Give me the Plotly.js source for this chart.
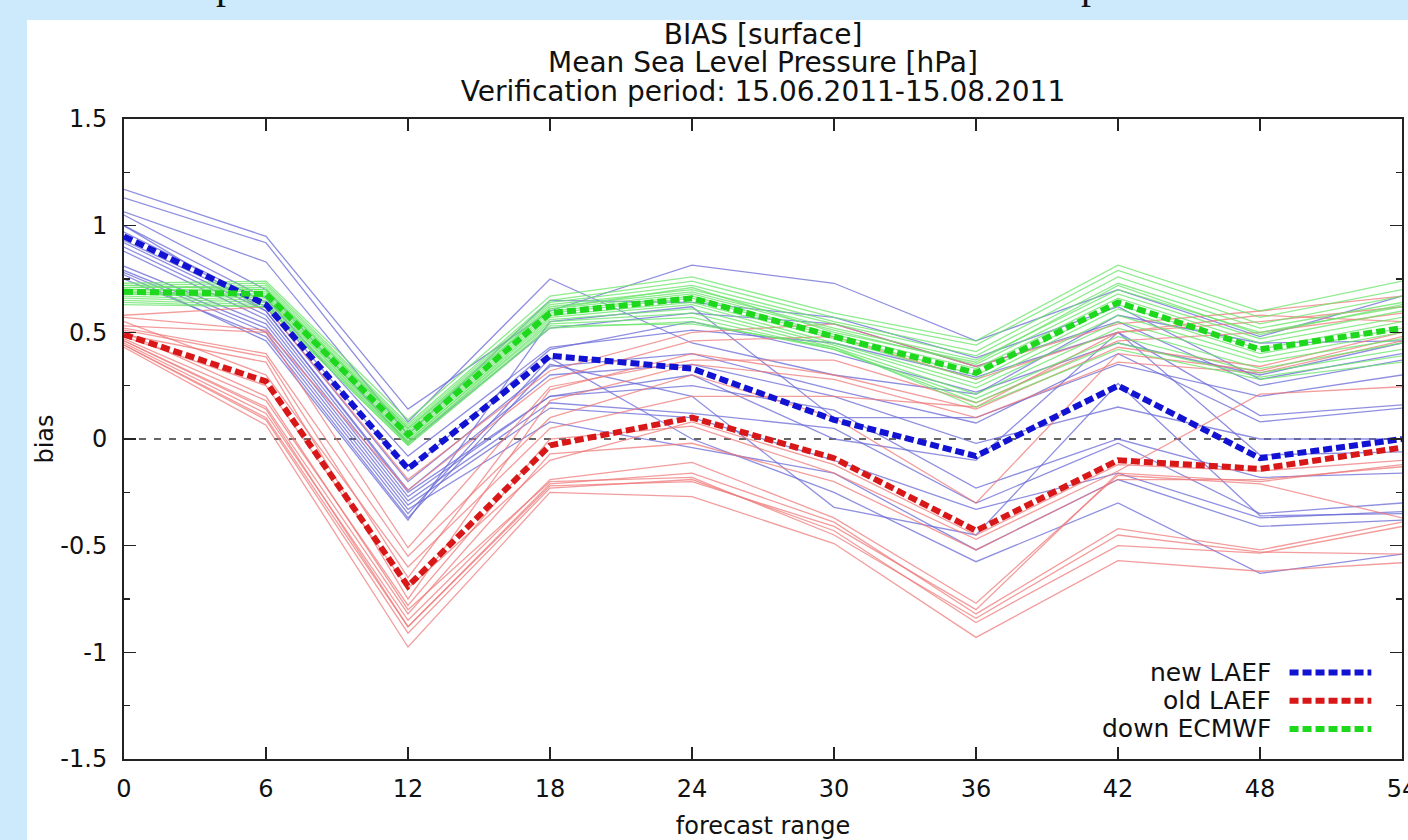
<!DOCTYPE html>
<html>
<head>
<meta charset="utf-8">
<script src="https://cdn.plot.ly/plotly-3.0.1.min.js"></script>
<style>
html,body{margin:0;padding:0;width:1408px;height:840px;overflow:hidden;background:#CCEAFB;}
#panel{position:absolute;left:27px;top:20px;width:1381px;height:820px;background:#ffffff;}
#strip{position:absolute;left:0;top:0;width:1408px;height:20px;overflow:hidden;}
.frag{position:absolute;top:-35px;font-family:"Liberation Serif","DejaVu Serif",serif;font-size:40px;line-height:40px;color:#111;}
#chart{position:absolute;left:0;top:0;width:1408px;height:840px;}
</style>
</head>
<body>
<div id="strip"><span class="frag" style="left:216px">p</span><span class="frag" style="left:1081px">p</span></div>
<div id="panel"></div>
<div id="chart"></div>
<script>
// ---- data ----
const leadTimes   = [0, 6, 12, 18, 24, 30, 36, 42, 48, 54];
const xTickLabels = ['0', '6', '12', '18', '24', '30', '36', '42', '48', '54'];
const yTickValues = [-1.5, -1, -0.5, 0, 0.5, 1, 1.5];
const yTickLabels = ['-1.5', '-1', '-0.5', '0', '0.5', '1', '1.5'];
const yMinorTicks = [-1.25, -0.75, -0.25, 0.25, 0.75, 1.25];
const seriesNames = ['new LAEF', 'old LAEF', 'down ECMWF'];

const newLaefMean = [0.95, 0.63, -0.14, 0.39, 0.33, 0.09, -0.08, 0.25, -0.09, 0.00];
const oldLaefMean = [0.49, 0.27, -0.69, -0.03, 0.10, -0.09, -0.43, -0.10, -0.14, -0.04];
const ecmwfMean   = [0.69, 0.68, 0.02, 0.59, 0.66, 0.48, 0.31, 0.64, 0.42, 0.52];

const newLaefMembers = [
  [1.17, 0.95, 0.14, 0.60, 0.815, 0.73, 0.46, 0.70, 0.48, 0.67],
  [1.13, 0.92, 0.08, 0.75, 0.45, 0.30, 0.21, 0.58, 0.45, 0.46],
  [1.065, 0.83, 0.02, 0.65, 0.64, 0.57, 0.38, 0.62, 0.28, 0.40],
  [1.05, 0.70, -0.02, 0.52, 0.59, 0.54, 0.34, 0.55, 0.25, 0.37],
  [1.00, 0.66, -0.08, 0.43, 0.51, 0.45, 0.29, 0.50, 0.11, 0.16],
  [0.97, 0.64, -0.15, 0.42, 0.55, 0.40, 0.22, 0.45, 0.30, 0.45],
  [0.93, 0.62, -0.20, 0.34, 0.40, 0.23, 0.075, 0.40, 0.08, 0.145],
  [0.92, 0.60, -0.24, 0.30, 0.35, 0.20, -0.02, 0.15, 0.00, 0.00],
  [0.90, 0.58, -0.27, 0.20, 0.25, 0.135, -0.23, 0.00, -0.18, -0.16],
  [0.88, 0.56, -0.29, 0.17, 0.12, 0.05, -0.30, -0.02, -0.35, -0.30],
  [0.81, 0.54, -0.31, 0.145, 0.10, -0.10, -0.33, -0.16, -0.37, -0.34],
  [0.79, 0.52, -0.33, 0.08, -0.04, -0.16, -0.52, -0.19, -0.41, -0.38],
  [0.78, 0.50, -0.35, 0.38, 0.00, -0.25, -0.575, -0.30, -0.63, -0.54],
  [0.75, 0.48, -0.37, 0.35, 0.20, -0.32, -0.45, 0.26, -0.36, -0.35],
  [0.77, 0.46, -0.38, 0.55, 0.62, 0.10, 0.10, 0.35, 0.20, 0.30],
  [1.00, 0.60, -0.25, 0.20, 0.30, 0.00, -0.10, 0.50, -0.075, -0.06]
];
const oldLaefMembers = [
  [0.58, 0.62, -0.19, 0.32, 0.50, 0.54, 0.34, 0.54, 0.60, 0.67],
  [0.57, 0.51, -0.24, 0.28, 0.46, 0.48, 0.28, 0.50, 0.55, 0.62],
  [0.53, 0.50, -0.51, 0.245, 0.37, 0.37, 0.17, 0.46, 0.50, 0.59],
  [0.51, 0.385, -0.65, 0.23, 0.40, 0.30, 0.14, 0.43, 0.34, 0.50],
  [0.49, 0.36, -0.75, 0.18, 0.35, 0.28, 0.10, 0.36, 0.31, 0.46],
  [0.47, 0.18, -0.78, 0.00, 0.06, -0.16, -0.47, -0.15, 0.21, 0.245],
  [0.46, 0.15, -0.82, -0.07, -0.02, -0.20, -0.52, -0.19, -0.19, -0.13],
  [0.45, 0.12, -0.85, -0.19, -0.11, -0.37, -0.77, -0.17, -0.21, -0.37],
  [0.44, 0.10, -0.88, -0.21, -0.16, -0.39, -0.82, -0.42, -0.52, -0.39],
  [0.44, 0.09, -0.91, -0.23, -0.19, -0.43, -0.86, -0.50, -0.535, -0.41],
  [0.43, 0.065, -0.975, -0.25, -0.27, -0.49, -0.93, -0.57, -0.62, -0.58],
  [0.50, 0.20, -0.80, -0.20, -0.18, -0.45, -0.84, -0.45, -0.53, -0.54],
  [0.48, 0.25, -0.70, -0.10, 0.08, -0.12, -0.45, -0.12, -0.15, -0.10],
  [0.52, 0.40, -0.55, 0.10, 0.30, 0.10, -0.30, 0.40, 0.32, 0.48],
  [0.46, 0.14, -0.88, -0.22, -0.20, -0.41, -0.80, -0.16, -0.20, -0.12],
  [0.55, 0.30, -0.60, 0.05, 0.20, 0.20, 0.15, 0.50, 0.58, 0.55]
];
const ecmwfMembers = [
  [0.73, 0.74, 0.09, 0.67, 0.76, 0.59, 0.46, 0.815, 0.60, 0.74],
  [0.72, 0.73, 0.07, 0.65, 0.74, 0.57, 0.44, 0.79, 0.57, 0.70],
  [0.71, 0.72, 0.06, 0.64, 0.72, 0.55, 0.41, 0.76, 0.54, 0.67],
  [0.71, 0.71, 0.05, 0.63, 0.70, 0.54, 0.39, 0.73, 0.52, 0.64],
  [0.70, 0.70, 0.04, 0.62, 0.69, 0.52, 0.37, 0.70, 0.50, 0.62],
  [0.70, 0.69, 0.03, 0.61, 0.68, 0.51, 0.35, 0.68, 0.47, 0.60],
  [0.69, 0.68, 0.02, 0.60, 0.67, 0.49, 0.33, 0.66, 0.45, 0.57],
  [0.69, 0.67, 0.01, 0.59, 0.66, 0.48, 0.30, 0.63, 0.42, 0.55],
  [0.68, 0.67, 0.00, 0.58, 0.64, 0.47, 0.28, 0.61, 0.40, 0.52],
  [0.68, 0.66, -0.01, 0.57, 0.63, 0.45, 0.26, 0.58, 0.38, 0.50],
  [0.67, 0.65, -0.01, 0.56, 0.61, 0.44, 0.24, 0.55, 0.36, 0.47],
  [0.66, 0.64, -0.02, 0.55, 0.59, 0.43, 0.21, 0.52, 0.33, 0.45],
  [0.65, 0.63, -0.02, 0.54, 0.57, 0.42, 0.19, 0.48, 0.31, 0.42],
  [0.64, 0.62, -0.03, 0.52, 0.55, 0.42, 0.17, 0.45, 0.29, 0.39],
  [0.63, 0.62, -0.03, 0.53, 0.54, 0.43, 0.15, 0.42, 0.28, 0.36],
  [0.72, 0.70, 0.05, 0.61, 0.71, 0.50, 0.36, 0.72, 0.49, 0.63]
];

// ---- styling ----
const memberColors = ['rgba(105,105,215,0.75)', 'rgba(238,118,118,0.72)', 'rgba(105,228,105,0.75)'];
const meanColors   = ['#1212d2', '#d81818', '#1ed81e'];
const FONT = '"DejaVu Sans", "Liberation Sans", Arial, sans-serif';

const traces = [];
[newLaefMembers, oldLaefMembers, ecmwfMembers].forEach((group, gi) => {
  group.forEach(vals => {
    traces.push({
      x: leadTimes, y: vals, type: 'scatter', mode: 'lines',
      line: {color: memberColors[gi], width: 1.3},
      showlegend: false, hoverinfo: 'skip'
    });
  });
});
[newLaefMean, oldLaefMean, ecmwfMean].forEach((vals, gi) => {
  traces.push({
    x: leadTimes, y: vals, type: 'scatter', mode: 'lines', name: seriesNames[gi],
    line: {color: meanColors[gi], width: 6, dash: '9px,4px'},
    showlegend: false, hoverinfo: 'skip'
  });
});

// legend (gnuplot style: text right-aligned, sample to its right)
const legendRowsY = [0.135, 0.091, 0.047];
const annotations = [];
const shapes = [{
  type: 'line', xref: 'x', yref: 'y', x0: leadTimes[0], x1: leadTimes[leadTimes.length - 1], y0: 0, y1: 0,
  line: {color: '#333', width: 1.5, dash: '7px,8px'}, layer: 'below'
}];
seriesNames.forEach((nm, i) => {
  annotations.push({
    xref: 'paper', yref: 'paper', x: 0.899, y: legendRowsY[i], xanchor: 'right', yanchor: 'middle',
    text: nm, showarrow: false, font: {family: FONT, size: 25, color: '#111'}
  });
  shapes.push({
    type: 'line', xref: 'paper', yref: 'paper', x0: 0.912, x1: 0.976, y0: legendRowsY[i], y1: legendRowsY[i],
    line: {color: meanColors[i], width: 6, dash: '9px,4px'}
  });
});

const big = s => '<span style="font-size:28px">' + s + '</span>';

const layout = {
  width: 1408, height: 840,
  paper_bgcolor: 'rgba(0,0,0,0)', plot_bgcolor: '#ffffff',
  margin: {l: 124, r: 6, t: 119, b: 81, pad: 0},
  font: {family: FONT, size: 24, color: '#111'},
  showlegend: false,
  title: {
    text: big('BIAS [surface]') + '<br>' + big('Mean Sea Level Pressure [hPa]') + '<br>' + big('Verification period: 15.06.2011-15.08.2011'),
    font: {family: FONT, size: 22, color: '#111'},
    x: 0.5, xref: 'paper', xanchor: 'center',
    y: 0.948, yref: 'container', yanchor: 'top'
  },
  xaxis: {
    range: [0, 54], tickmode: 'array', tickvals: leadTimes, ticktext: xTickLabels,
    ticks: 'inside', ticklen: 12, tickwidth: 1.5, tickcolor: '#222',
    showline: true, linecolor: '#222', linewidth: 2, mirror: 'ticks',
    showgrid: false, zeroline: false, ticklabelstandoff: 7, ticklabeloverflow: 'allow',
    tickfont: {family: FONT, size: 24, color: '#111'},
    title: {text: 'forecast range', font: {family: FONT, size: 24, color: '#111'}, standoff: 26},
    automargin: false
  },
  yaxis: {
    range: [-1.5, 1.5], tickmode: 'array', tickvals: yTickValues, ticktext: yTickLabels,
    ticks: 'inside', ticklen: 12, tickwidth: 1.5, tickcolor: '#222',
    minor: {tickmode: 'array', tickvals: yMinorTicks, ticks: 'inside', ticklen: 6, tickwidth: 1.5, tickcolor: '#222', showgrid: false},
    showline: true, linecolor: '#222', linewidth: 2, mirror: 'ticks',
    showgrid: false, zeroline: false, ticklabelstandoff: 10,
    tickfont: {family: FONT, size: 24, color: '#111'},
    title: {text: 'bias', font: {family: FONT, size: 24, color: '#111'}, standoff: 0},
    automargin: false
  },
  annotations: annotations,
  shapes: shapes,
  hovermode: false
};

Plotly.newPlot('chart', traces, layout, {displayModeBar: false, staticPlot: true});
</script>
</body>
</html>
